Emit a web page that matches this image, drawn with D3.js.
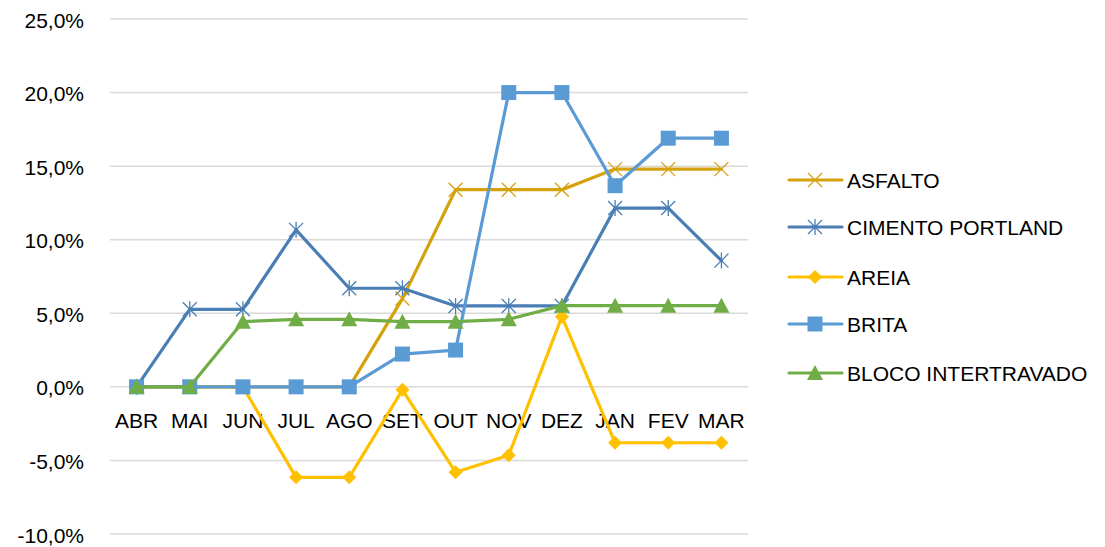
<!DOCTYPE html>
<html><head><meta charset="utf-8">
<script src="https://cdn.jsdelivr.net/npm/d3@7"></script>
<style>body{margin:0;background:#fff}svg{display:block}text{font-family:"Liberation Sans",Arial,sans-serif;fill:#000}</style>
</head><body><svg id="c" width="1105" height="547"></svg>
<script>
const months = ["ABR","MAI","JUN","JUL","AGO","SET","OUT","NOV","DEZ","JAN","FEV","MAR"];
const yTicks = [-10,-5,0,5,10,15,20,25];
const seriesNames = ["ASFALTO","CIMENTO PORTLAND","AREIA","BRITA","BLOCO INTERTRAVADO"];
const asfalto = [0,0,0,0,0,6.0,13.4,13.4,13.4,14.8,14.8,14.8];
const cimento = [0,5.27,5.27,10.67,6.7,6.7,5.5,5.5,5.5,12.15,12.15,8.58];
const areia = [0,0,0,-6.15,-6.15,-0.2,-5.8,-4.65,4.77,-3.8,-3.8,-3.8];
const brita = [0,0,0,0,0,2.23,2.5,20.0,20.0,13.67,16.9,16.9];
const bloco = [0,0,4.43,4.59,4.59,4.43,4.43,4.59,5.52,5.52,5.52,5.52];

const seriesData = [asfalto,cimento,areia,brita,bloco];
const colors = ["#D4A20C","#4A7EB4","#FFC000","#5B9BD5","#70AD47"];
const markers = ["x","star","diamond","square","triangle"];

const svg = d3.select("#c");
const x = d3.scalePoint().domain(months).range([110,748]).padding(0.5);
const y = d3.scaleLinear().domain([-10,25]).range([534,19]);
const FS = 21;

svg.append("g").selectAll("line").data(yTicks).join("line")
  .attr("x1",110).attr("x2",748).attr("y1",d=>y(d)).attr("y2",d=>y(d))
  .attr("stroke","#d9d9d9").attr("stroke-width",1.5);

const fmt = d=>d.toFixed(1).replace(".",",")+"%";
svg.append("g").selectAll("text").data(yTicks).join("text")
  .attr("x",84).attr("y",d=>y(d)+8.5).attr("text-anchor","end")
  .attr("font-size",FS).text(fmt);

svg.append("g").selectAll("text").data(months).join("text")
  .attr("x",d=>x(d)).attr("y",y(0)+41).attr("text-anchor","middle")
  .attr("font-size",FS).text(d=>d);

function drawMarker(g, type, cx, cy, col){
  if(type==="square") g.append("rect").attr("x",cx-7.5).attr("y",cy-7.5).attr("width",15).attr("height",15).attr("fill",col);
  else if(type==="triangle") g.append("path").attr("d",`M${cx},${cy-8}L${cx+8},${cy+7}L${cx-8},${cy+7}Z`).attr("fill",col);
  else if(type==="diamond") g.append("path").attr("d",`M${cx},${cy-7}L${cx+7},${cy}L${cx},${cy+7}L${cx-7},${cy}Z`).attr("fill",col);
  else if(type==="x") g.append("path").attr("d",`M${cx-7},${cy-7}L${cx+7},${cy+7}M${cx-7},${cy+7}L${cx+7},${cy-7}`).attr("stroke",col).attr("stroke-width",1.3).attr("fill","none");
  else if(type==="star") g.append("path").attr("d",`M${cx-7},${cy-7}L${cx+7},${cy+7}M${cx-7},${cy+7}L${cx+7},${cy-7}M${cx},${cy-8}L${cx},${cy+8}`).attr("stroke",col).attr("stroke-width",1.3).attr("fill","none");
}

const line = d3.line().x((d,i)=>x(months[i])).y(d=>y(d));
seriesData.forEach((arr,k)=>{
  const g = svg.append("g");
  g.append("path").attr("d",line(arr)).attr("fill","none").attr("stroke",colors[k])
    .attr("stroke-width",3.2).attr("stroke-linejoin","round").attr("stroke-linecap","round");
  arr.forEach((v,i)=>drawMarker(g,markers[k],x(months[i]),y(v),colors[k]));
});

const legY = [180,227,277,324,373];
seriesNames.forEach((n,k)=>{
  const g = svg.append("g");
  g.append("line").attr("x1",789).attr("x2",842).attr("y1",legY[k]).attr("y2",legY[k])
    .attr("stroke",colors[k]).attr("stroke-width",3.2).attr("stroke-linecap","round");
  drawMarker(g,markers[k],815,legY[k],colors[k]);
  g.append("text").attr("x",847).attr("y",legY[k]+7.5).attr("font-size",FS).text(n);
});
</script></body></html>
